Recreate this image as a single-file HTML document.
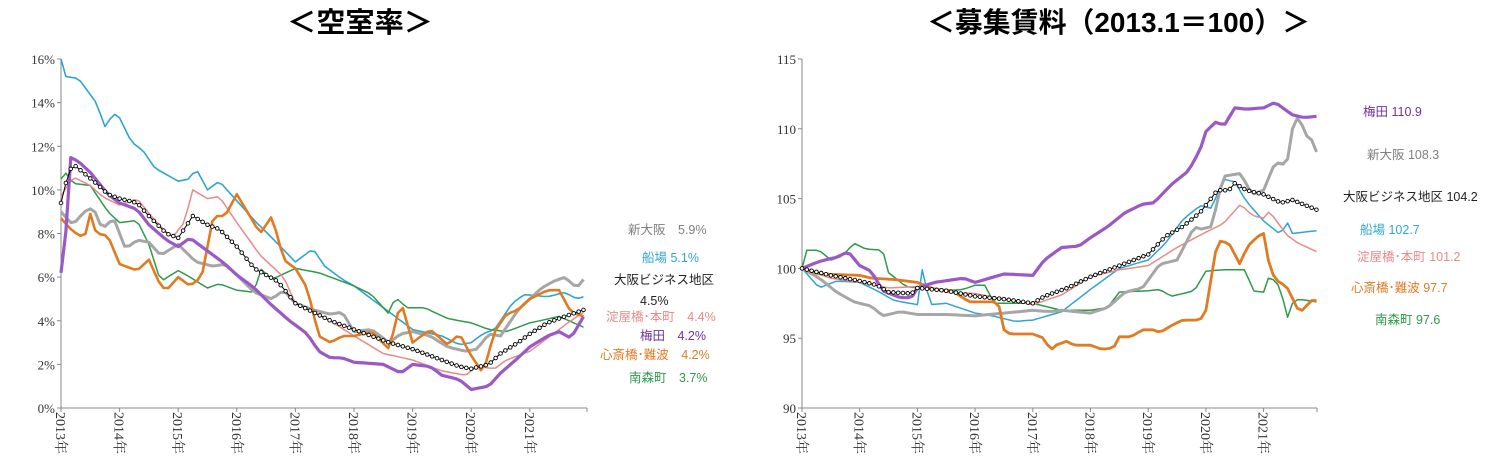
<!DOCTYPE html>
<html><head><meta charset="utf-8"><style>
body{margin:0;background:#fff;width:1499px;height:467px;overflow:hidden}
svg{display:block}
text{font-family:"Liberation Serif","Noto Serif CJK SC",serif}
text.t{font-family:"Liberation Sans","Noto Sans CJK JP",sans-serif;font-weight:bold;font-size:28px}
.lg text{font-family:"Liberation Sans","Noto Sans CJK JP",sans-serif;font-size:12.5px}
</style></head><body>
<svg id="s" width="1499" height="467" xmlns="http://www.w3.org/2000/svg">
<text class="t" x="287" y="32" textLength="146" lengthAdjust="spacingAndGlyphs">＜空室率＞</text>
<text class="t" x="927" y="32" textLength="383" lengthAdjust="spacingAndGlyphs">＜募集賃料（2013.1＝100）＞</text>
<g class="lg">
<text x="628" y="234" fill="#7f7f7f">新大阪　5.9%</text>
<text x="642" y="262" fill="#2fa5d0">船場 5.1%</text>
<text x="614" y="284" fill="#222">大阪ビジネス地区</text>
<text x="640" y="305" fill="#222">4.5%</text>
<text x="606" y="321" fill="#e88a8a">淀屋橋･本町　4.4%</text>
<text x="640" y="340" fill="#7030a0">梅田　4.2%</text>
<text x="600" y="359" fill="#e07b22">心斎橋･難波　4.2%</text>
<text x="629" y="382" fill="#2e9a4a">南森町　3.7%</text>
<text x="1363" y="116" fill="#7030a0">梅田 110.9</text>
<text x="1367" y="159" fill="#7f7f7f">新大阪 108.3</text>
<text x="1343" y="201" fill="#222">大阪ビジネス地区 104.2</text>
<text x="1360" y="234" fill="#2fa5d0">船場 102.7</text>
<text x="1357" y="261" fill="#e88a8a">淀屋橋･本町 101.2</text>
<text x="1351" y="292" fill="#e07b22">心斎橋･難波 97.7</text>
<text x="1375" y="324" fill="#2e9a4a">南森町 97.6</text>
</g>
</svg>
<script>
const S=document.getElementById('s'),NS='http://www.w3.org/2000/svg';
function el(t,a,txt){const e=document.createElementNS(NS,t);for(const k in a)e.setAttribute(k,a[k]);if(txt!==undefined)e.textContent=txt;S.appendChild(e);return e;}
function interp(pts,t){for(let i=1;i<pts.length;i++){if(t<=pts[i][0]){const a=pts[i-1],b=pts[i];return a[1]+(b[1]-a[1])*(t-a[0])/(b[0]-a[0]);}}return pts[pts.length-1][1];}
function chart(C){
 const X=t=>C.x0+t*C.yr, Y=v=>C.yb-(v-C.vmin)*(C.yb-C.yt)/(C.vmax-C.vmin);
 el('line',{x1:C.x0,y1:C.yt,x2:C.x0,y2:C.yb,stroke:'#888','stroke-width':1});
 el('line',{x1:C.x0,y1:C.yb,x2:C.xe,y2:C.yb,stroke:'#888','stroke-width':1});
 for(const v of C.ticks){el('line',{x1:C.x0-4,y1:Y(v),x2:C.x0,y2:Y(v),stroke:'#888'});
  el('text',{x:C.x0-6,y:Y(v)+5,'text-anchor':'end','font-size':13,fill:'#333'},C.fmt(v));}
 for(let i=0;i<=9;i++){const x=i<9?X(i):C.xe;el('line',{x1:x,y1:C.yb,x2:x,y2:C.yb+4,stroke:'#888'});}
 for(let i=0;i<9;i++){el('text',{x:0,y:0,transform:`translate(${X(i)-5},${C.yb+4}) rotate(90)`,'font-size':14,fill:'#333'},(2013+i)+'年');}
 for(const s of C.series){let d='';const pts=[];for(let m=0;m<=107;m++){const t=m/12;const v=interp(s.p,t);pts.push([X(t),Y(v)]);}
  d=pts.map((p,i)=>(i?'L':'M')+p[0].toFixed(1)+' '+p[1].toFixed(1)).join('');
  el('path',{d,fill:'none',stroke:s.c,'stroke-width':s.w,'stroke-linejoin':'round'});
  if(s.m)for(const p of pts)el('circle',{cx:p[0],cy:p[1],r:1.8,fill:'#fff',stroke:'#000','stroke-width':0.9});}
}
chart({x0:61,xe:587,yr:58.6,yt:59,yb:408,vmin:0,vmax:16,ticks:[0,2,4,6,8,10,12,14,16],fmt:v=>v+'%',series:[
{c:'#2fa5d0',w:1.6,p:[[0,16],[0.08,15.2],[0.3,15.1],[0.6,14],[0.75,12.9],[0.9,13.5],[1,13.3],[1.2,12.2],[1.4,11.8],[1.6,11],[2,10.4],[2.2,10.5],[2.3,11],[2.5,10],[2.7,10.4],[3,9.5],[3.3,8.6],[3.6,7.8],[4,6.7],[4.3,7.3],[4.5,6.5],[4.8,5.9],[5,5.6],[5.3,5],[5.6,4.4],[5.8,4],[6,3.6],[6.5,3.3],[6.8,2.9],[7,3],[7.2,3.4],[7.4,3.6],[7.7,4.8],[7.9,5.2],[8.3,5.1],[8.6,5.3],[8.8,5],[8.92,5.1]]},
{c:'#2e9a4a',w:1.5,p:[[0,10.5],[0.05,10.9],[0.2,10.3],[0.5,10.2],[0.8,9],[1,8.5],[1.3,8.6],[1.5,7.5],[1.7,5.8],[2,6.3],[2.2,6],[2.5,5.5],[2.7,5.7],[3,5.4],[3.3,5.3],[3.4,6.4],[3.6,5.9],[4,6.4],[4.4,6.2],[4.6,6],[5,5.6],[5.3,5.2],[5.6,4.3],[5.7,5.1],[5.9,4.6],[6.2,4.6],[6.6,4.1],[7,3.9],[7.3,3.6],[7.6,3.5],[8,3.9],[8.5,4.2],[8.92,3.7]]},
{c:'#e88a8a',w:1.5,p:[[0,9.7],[0.2,10.6],[0.5,10.2],[0.7,9.7],[1,9.3],[1.3,9.6],[1.6,8.6],[1.9,7.8],[2.1,8.5],[2.25,10],[2.5,9.6],[2.7,9.7],[3,8.5],[3.4,7],[3.8,6],[4,4.8],[4.3,4.4],[4.6,4],[5,3.3],[5.5,2.5],[6,2.2],[6.5,1.7],[6.9,1.5],[7.1,1.9],[7.4,1.8],[7.6,2.2],[8,2.6],[8.4,3.4],[8.7,4],[8.92,4.4]]},
{c:'#a6a6a6',w:3,p:[[0,9],[0.2,8.4],[0.4,9],[0.55,9.2],[0.7,8.2],[0.9,8.7],[1.1,7.3],[1.3,7.7],[1.5,7.6],[1.7,7],[2,7.5],[2.3,6.7],[2.6,6.5],[2.8,6.6],[3,6.1],[3.3,5.3],[3.6,5],[3.8,5.4],[4,4.8],[4.3,4.5],[4.6,4.3],[4.8,4.4],[5,3.5],[5.3,3.6],[5.6,3],[5.8,3.4],[6,3.5],[6.3,3.3],[6.6,2.8],[6.9,2.6],[7.1,2.7],[7.3,3.4],[7.5,3.3],[7.8,4.5],[8,5],[8.2,5.5],[8.4,5.8],[8.6,6],[8.8,5.5],[8.92,5.9]]},
{c:'#e07b22',w:2.6,p:[[0,8.7],[0.2,8.1],[0.4,7.8],[0.5,8.9],[0.6,8],[0.8,7.9],[1,6.6],[1.3,6.3],[1.5,6.8],[1.7,5.6],[1.8,5.4],[2,6],[2.2,5.6],[2.4,6],[2.6,8.8],[2.8,8.8],[3,9.8],[3.2,8.9],[3.4,8],[3.6,8.8],[3.8,6.8],[4,6.4],[4.2,5.5],[4.4,3.3],[4.6,3],[4.8,3.3],[5,3.3],[5.3,3.5],[5.6,2.7],[5.8,4.9],[6,3],[6.3,3.6],[6.6,2.9],[6.8,3.4],[7,2.4],[7.2,1.6],[7.4,3.5],[7.6,4.3],[7.8,4.5],[8,5],[8.3,5.4],[8.5,5.4],[8.7,4.4],[8.92,4.2]]},
{c:'#9b59c6',w:3.2,p:[[0,6.2],[0.05,6.4],[0.15,11.5],[0.3,11.3],[0.5,10.8],[0.8,9.8],[1,9.4],[1.3,9.1],[1.5,8.4],[1.8,7.7],[2,7.4],[2.2,7.8],[2.5,7.2],[2.8,6.6],[3,6.1],[3.3,5.5],[3.6,4.7],[3.9,4],[4.2,3.4],[4.4,2.6],[4.6,2.3],[4.8,2.3],[5,2.1],[5.5,2],[5.8,1.6],[6,2],[6.3,1.9],[6.5,1.5],[6.8,1.3],[7,0.85],[7.3,1],[7.5,1.6],[7.8,2.3],[8,2.8],[8.3,3.3],[8.5,3.5],[8.7,3.2],[8.92,4.2]]},
{c:'#000',w:1,m:1,p:[[0,9.4],[0.1,10.5],[0.2,11.2],[0.6,10.3],[0.8,9.8],[1,9.6],[1.3,9.4],[1.5,8.8],[1.8,8],[2,7.8],[2.25,8.8],[2.5,8.4],[2.7,8.2],[3,7.4],[3.3,6.4],[3.7,5.8],[4,4.8],[4.3,4.4],[4.6,4],[5,3.6],[5.3,3.3],[5.6,3],[6,2.7],[6.3,2.4],[6.8,1.9],[7,1.8],[7.3,2],[7.5,2.5],[7.8,3],[8,3.4],[8.3,3.9],[8.6,4.2],[8.92,4.5]]}
]});
chart({x0:802,xe:1317,yr:57.7,yt:59,yb:408,vmin:90,vmax:115,ticks:[90,95,100,105,110,115],fmt:v=>''+v,series:[
{c:'#2e9a4a',w:1.5,p:[[0,100],[0.05,101.3],[0.3,101.3],[0.5,100.6],[0.7,100.9],[0.9,101.8],[1.1,101.4],[1.4,101.3],[1.5,99.7],[1.8,98.7],[2.2,98.5],[2.5,98.4],[2.8,98.5],[3,98.8],[3.2,98.8],[3.3,97.5],[4,97.5],[4.5,97],[5,97],[5.3,97.2],[5.5,98.3],[6,98.4],[6.2,98.5],[6.4,98],[6.8,98.4],[7,99.8],[7.3,99.9],[7.7,99.9],[7.8,98.4],[8,98.3],[8.1,99.5],[8.3,98.6],[8.4,96.3],[8.5,97.5],[8.6,97.8],[8.92,97.6]]},
{c:'#2fa5d0',w:1.5,p:[[0,100],[0.3,98.6],[0.6,99.1],[1,99],[1.3,98.4],[1.6,97.7],[2,97.4],[2.1,100.4],[2.2,97.4],[2.5,97.5],[3,96.8],[3.3,96.6],[3.7,96.2],[4,96.3],[4.5,96.9],[5,98.5],[5.5,100],[6,100.6],[6.3,101.8],[6.6,103.5],[6.9,104.5],[7.1,104.3],[7.3,106.4],[7.5,106.2],[7.7,104.8],[8,103.4],[8.3,102.4],[8.4,103.4],[8.5,102.5],[8.92,102.7]]},
{c:'#e88a8a',w:1.5,p:[[0,100],[0.5,99.3],[1,99],[1.5,98.6],[2,98.7],[2.5,98.3],[3,98.2],[3.5,97.8],[4,97.4],[4.5,98.1],[5,99.4],[5.5,99.9],[6,100.2],[6.5,101.5],[7,102.6],[7.3,103.2],[7.6,104.6],[7.8,103.8],[8,103.6],[8.1,104.1],[8.4,102.4],[8.6,101.8],[8.92,101.2]]},
{c:'#a6a6a6',w:3,p:[[0,100],[0.3,99.3],[0.6,98.3],[0.9,97.6],[1.2,97.3],[1.4,96.6],[1.7,96.9],[2,96.7],[2.5,96.7],[3,96.6],[3.5,96.8],[4,97],[4.3,96.9],[4.5,97],[5,96.8],[5.3,97.2],[5.6,98.3],[5.9,98.6],[6.2,100.3],[6.5,100.6],[6.8,103],[6.9,102.8],[7.1,103],[7.3,106.6],[7.6,106.8],[7.8,105.3],[8,105.6],[8.2,107.6],[8.4,107.4],[8.5,110],[8.6,110.9],[8.8,109],[8.85,109.3],[8.92,108.3]]},
{c:'#e07b22',w:2.8,p:[[0,100],[0.3,99.6],[1,99.5],[1.2,99.3],[1.6,99.2],[2,99],[2.3,98.5],[2.6,98.4],[2.9,97.6],[3.4,97.6],[3.5,95.6],[3.6,95.3],[4,95.3],[4.2,95],[4.3,94.1],[4.4,94.5],[4.6,94.8],[4.7,94.5],[5,94.5],[5.2,94.2],[5.4,94.3],[5.5,95.1],[5.7,95.1],[5.9,95.6],[6.1,95.6],[6.2,95.4],[6.4,95.9],[6.6,96.3],[6.9,96.3],[7,97],[7.2,102],[7.4,101.8],[7.5,101],[7.6,100.2],[7.7,101.5],[7.9,102.3],[8,102.5],[8.1,100.2],[8.2,99.2],[8.4,98.7],[8.6,97],[8.7,97],[8.8,97.7],[8.92,97.7]]},
{c:'#9b59c6',w:3.2,p:[[0,100],[0.3,100.5],[0.6,100.8],[0.8,101.2],[1,100.2],[1.2,99.8],[1.4,98.4],[1.7,97.9],[1.9,97.9],[2,98.6],[2.3,99],[2.8,99.3],[3,99],[3.5,99.6],[4,99.5],[4.2,100.6],[4.5,101.5],[4.8,101.6],[5,102.2],[5.3,103],[5.6,104],[5.9,104.6],[6.1,104.7],[6.4,106],[6.7,107],[6.9,108.5],[7,109.8],[7.2,110.6],[7.3,110.1],[7.5,111.5],[7.7,111.4],[8,111.5],[8.2,111.9],[8.5,111],[8.7,110.8],[8.92,110.9]]},
{c:'#000',w:1,m:1,p:[[0,100],[0.5,99.5],[1,99.1],[1.3,98.8],[1.5,98.3],[1.9,98.2],[2,98.6],[2.5,98.4],[3,98],[3.5,97.8],[4,97.5],[4.2,98],[4.6,98.6],[5,99.4],[5.5,100.2],[6,101],[6.3,102.3],[6.6,103],[6.9,104],[7.2,105.6],[7.4,105.6],[7.5,106.1],[7.7,105.6],[8,105.3],[8.3,104.7],[8.5,104.9],[8.92,104.2]]}
]});
</script>
</body></html>
